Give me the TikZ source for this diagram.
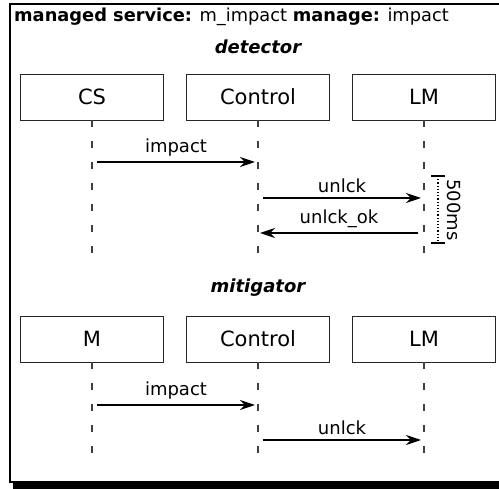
\documentclass[tikz,border=0pt]{standalone}
\usepackage{fontspec}
\setmainfont{DejaVu Sans}
\usetikzlibrary{arrows.meta}
\tikzset{
  actor/.style={draw=black!85, line width=0.9pt, fill=white, minimum width=143pt, minimum height=46pt, inner sep=0pt, font=\fontsize{21}{24}\selectfont},
  lifeline/.style={draw=black!75, line width=1.2pt, dash pattern=on 7pt off 14pt},
  msg/.style={draw=black, line width=1.4pt, -{Stealth[length=15pt,width=10pt,inset=5pt]}},
  lbl/.style={font=\fontsize{18}{20}\selectfont, inner sep=0pt},
  hdr/.style={font=\fontsize{18}{20}\selectfont\bfseries\itshape, inner sep=0pt},
}
\begin{document}
\begin{tikzpicture}[x=1pt,y=-1pt]
\useasboundingbox (0,0) rectangle (499,489);
\clip (0,0) rectangle (499,489);
% frame with shadow
\fill[black] (13,8) rectangle (512,489);
\draw[line width=1.5pt, fill=white] (10,4) rectangle (508,482);
% title
\node[lbl, anchor=west, font=\fontsize{17.8}{20}\selectfont] (title) at (14,17) {\textbf{managed service:} m\_impact \textbf{manage:} impact};
\node[hdr] (det) at (258,47) {detector};
% top row actors
\node[actor] (cs) at (92,97) {CS};
\node[actor] (ctl1) at (258,97) {Control};
\node[actor] (lm1) at (424,97) {LM};
\coordinate (cs-e) at (92,261);
\coordinate (ctl1-e) at (258,261);
\coordinate (lm1-e) at (424,261);
\draw[lifeline] (cs.south) -- (cs-e);
\draw[lifeline] (ctl1.south) -- (ctl1-e);
\draw[lifeline] (lm1.south) -- (lm1-e);
% messages top
\coordinate (a1s) at (97,162); \coordinate (a1e) at (255,162);
\draw[msg] (a1s) -- node[lbl, above=5pt] (l1) {impact} (a1e);
\coordinate (a2s) at (263,198); \coordinate (a2e) at (421,198);
\draw[msg] (a2s) -- node[lbl, above=5pt] (l2) {unlck} (a2e);
\coordinate (a3s) at (418,233); \coordinate (a3e) at (260,233);
\draw[msg] (a3s) -- node[lbl, above=5pt] (l3) {unlck\_ok} (a3e);
% timing bracket
\coordinate (tt) at (438,176); \coordinate (tb) at (438,243);
\draw[line width=1.5pt] ([xshift=-7pt]tt) -- ([xshift=7pt]tt);
\draw[line width=1.5pt] ([xshift=-7pt]tb) -- ([xshift=7pt]tb);
\draw[line width=1.2pt, dotted] (tt) -- (tb);
\node[lbl, rotate=-90] (t500) at (454,210) {500ms};
% mitigator
\node[hdr] (mit) at (258,288) {mitigator};
\node[actor] (m) at (92,339) {M};
\node[actor] (ctl2) at (258,339) {Control};
\node[actor] (lm2) at (424,339) {LM};
\coordinate (m-e) at (92,460);
\coordinate (ctl2-e) at (258,460);
\coordinate (lm2-e) at (424,460);
\draw[lifeline] (m.south) -- (m-e);
\draw[lifeline] (ctl2.south) -- (ctl2-e);
\draw[lifeline] (lm2.south) -- (lm2-e);
\coordinate (b1s) at (97,405); \coordinate (b1e) at (255,405);
\draw[msg] (b1s) -- node[lbl, above=5pt] (l4) {impact} (b1e);
\coordinate (b2s) at (263,440); \coordinate (b2e) at (421,440);
\draw[msg] (b2s) -- node[lbl, above=5pt] (l5) {unlck} (b2e);
\end{tikzpicture}
\end{document}
